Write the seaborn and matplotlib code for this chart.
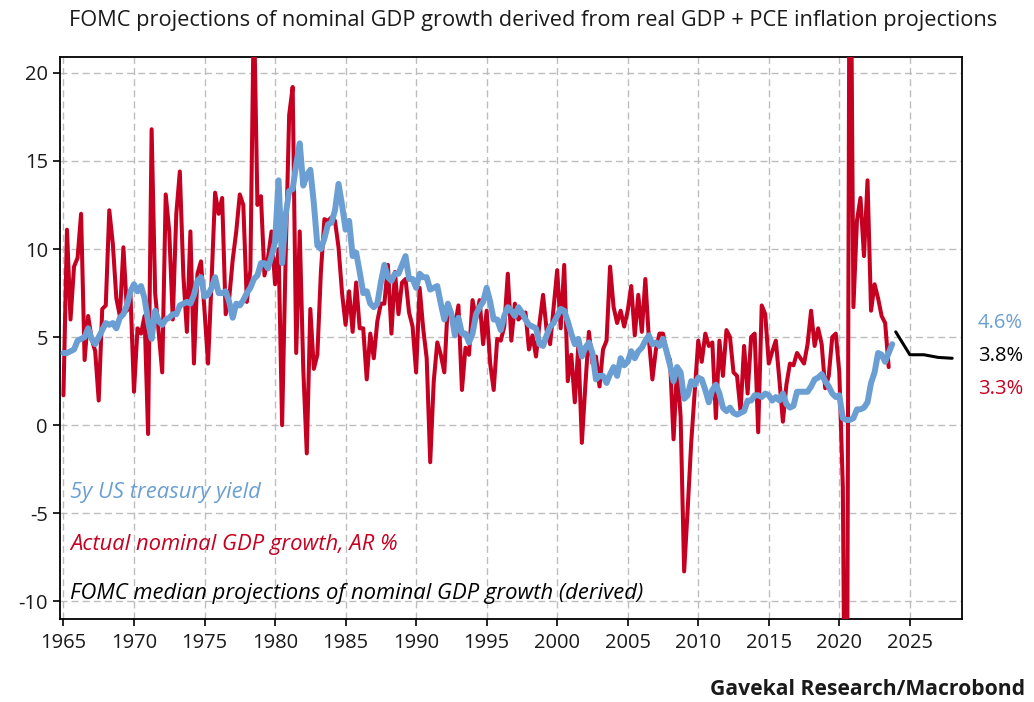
import numpy as np
import pandas as pd
import matplotlib
matplotlib.use("Agg")
import matplotlib.pyplot as plt
import seaborn as sns
from matplotlib import font_manager as fm

# ---------------- data ----------------
gdp_start = "1964Q4"   # quarterly, plotted at quarter end
gdp_growth = [
    1.7,
    11.1, 6.0, 9.0, 9.5,
    12.0, 3.7, 6.2, 4.9,
    4.2, 1.4, 6.6, 6.8,
    12.2, 10.3, 7.2, 6.2,
    10.1, 6.5, 7.5, 1.9,
    5.5, 5.2, 6.2, -0.5,
    16.8, 7.5, 5.3, 3.0,
    13.1, 11.0, 6.0, 12.0,
    14.4, 8.5, 5.3, 11.0,
    3.5, 8.6, 9.3, 6.5,
    3.5, 8.2, 13.2, 12.0,
    12.9, 6.3, 7.2, 9.4,
    11.0, 13.1, 12.5, 7.0,
    8.8, 24.0, 12.5, 13.0,
    8.5, 9.5, 11.0, 8.0,
    10.0, 0.0, 9.5, 17.6,
    19.2, 4.1, 11.0, 3.2,
    -1.6, 6.6, 3.2, 4.0,
    8.7, 11.7, 11.6, 11.8,
    11.6, 10.1, 7.5, 5.7,
    7.6, 5.3, 8.1, 5.5,
    5.5, 2.6, 5.2, 3.8,
    5.9, 6.9, 6.9, 9.1,
    5.2, 8.7, 6.3, 8.1,
    8.3, 6.4, 5.6, 3.0,
    7.8, 5.5, 3.8, -2.1,
    2.5, 4.7, 4.0, 3.0,
    6.9, 6.4, 5.6, 6.8,
    2.0, 4.4, 4.0, 7.1,
    6.0, 7.1, 4.6, 6.5,
    3.5, 2.0, 4.9, 4.8,
    5.6, 8.6, 4.8, 6.9,
    6.0, 6.2, 6.4, 4.3,
    5.1, 3.9, 5.8, 7.4,
    5.4, 4.6, 6.7, 8.8,
    5.5, 9.1, 2.5, 4.0,
    1.3, 4.5, -1.0, 2.3,
    5.3, 3.5, 3.9, 2.2,
    4.3, 4.8, 9.0, 6.7,
    5.8, 6.5, 5.6, 6.5,
    7.9, 5.1, 7.4, 5.3,
    8.3, 4.9, 2.6, 4.3,
    5.2, 5.2, 4.2, 3.7,
    -0.8, 3.3, 0.5, -8.3,
    -4.8, -1.0, 1.9, 4.8,
    3.6, 5.2, 4.5, 4.7,
    0.4, 4.8, 2.8, 5.4,
    5.0, 3.0, 2.8, 0.8,
    4.5, 1.8, 5.0, 5.2,
    -0.4, 6.8, 6.3, 3.5,
    4.2, 4.8, 2.6, 0.2,
    2.3, 3.5, 3.4, 4.1,
    3.8, 3.5, 4.6, 6.5,
    4.5, 5.5, 4.6, 2.1,
    2.8, 5.0, 5.2, 3.0,
    -3.5, -30.0, 35.0, 6.7,
    11.6, 12.9, 9.6, 13.9,
    6.5, 8.0, 7.2, 6.2,
    5.8, 3.3,
]

yield_start = "1964Q4"   # quarterly, plotted at quarter end
yield_5y = [
    4.1,
    4.1, 4.2, 4.3, 4.8,
    4.9, 5.0, 5.5, 4.9,
    4.6, 5.0, 5.4, 5.8,
    5.7, 5.8, 5.5, 6.1,
    6.3, 6.8, 7.6, 8.0,
    7.6, 7.9, 7.2, 5.9,
    4.9, 6.5, 5.9, 5.7,
    6.0, 6.1, 6.3, 6.3,
    6.8, 6.9, 7.0, 6.9,
    7.4, 8.2, 8.4, 7.3,
    7.4, 7.8, 8.4, 7.5,
    7.5, 7.6, 7.0, 6.1,
    6.9, 6.8, 7.1, 7.5,
    7.8, 8.3, 8.5, 9.2,
    9.2, 8.9, 9.6, 10.4,
    13.9, 9.2, 11.9, 13.3,
    13.4, 14.8, 16.0, 13.6,
    14.2, 14.5, 12.6, 10.2,
    10.0, 10.6, 11.4, 11.5,
    12.2, 13.7, 12.5, 11.1,
    11.6, 9.6, 9.8, 8.7,
    7.5, 7.6, 6.9, 6.7,
    6.9, 8.1, 9.1, 8.4,
    8.2, 8.6, 8.6, 9.1,
    9.6, 8.3, 8.3, 7.8,
    8.6, 8.4, 8.4, 7.7,
    7.8, 7.9, 6.9, 6.0,
    6.9, 6.3, 5.1, 6.1,
    5.2, 5.2, 4.7, 5.2,
    6.3, 6.7, 7.0, 7.8,
    7.0, 6.0, 6.0, 5.4,
    6.2, 6.7, 6.5, 6.2,
    6.7, 6.4, 6.0, 5.7,
    5.6, 5.5, 4.6, 4.5,
    5.1, 5.6, 5.8, 6.2,
    6.6, 6.5, 5.9, 5.2,
    4.6, 4.9, 3.9, 4.4,
    4.7, 4.1, 2.6, 2.8,
    2.8, 2.4, 2.9, 3.3,
    2.8, 3.8, 3.4, 3.6,
    4.2, 3.8, 4.2, 4.4,
    4.8, 5.1, 4.6, 4.7,
    4.5, 4.9, 4.2, 3.4,
    2.5, 3.3, 3.0, 1.5,
    1.7, 2.5, 2.3, 2.7,
    2.6, 2.0, 1.3, 2.0,
    2.3, 1.8, 1.0, 0.8,
    1.0, 0.7, 0.6, 0.7,
    0.8, 1.4, 1.4, 1.7,
    1.7, 1.6, 1.8, 1.7,
    1.4, 1.6, 1.4, 1.8,
    1.2, 1.0, 1.1, 1.9,
    1.9, 1.9, 1.9, 2.2,
    2.6, 2.7, 2.9, 2.5,
    2.2, 1.8, 1.6, 1.7,
    0.4, 0.3, 0.3, 0.4,
    0.9, 0.9, 1.0, 1.3,
    2.4, 3.0, 4.1, 4.0,
    3.6, 4.1, 4.6,
]

proj_years = [2023, 2024, 2025, 2026, 2027]   # plotted at year end
proj_values = [5.3, 4.0, 4.0, 3.85, 3.8]

x_ticks = [1965, 1970, 1975, 1980, 1985, 1990, 1995, 2000, 2005, 2010, 2015, 2020, 2025]
y_ticks = [-10, -5, 0, 5, 10, 15, 20]

end_labels = ["4.6%", "3.8%", "3.3%"]
legend_labels = ["5y US treasury yield",
                 "Actual nominal GDP growth, AR %",
                 "FOMC median projections of nominal GDP growth (derived)"]
title_text = "FOMC projections of nominal GDP growth derived from real GDP + PCE inflation projections"
source_text = "Gavekal Research/Macrobond"

RED = "#C50021"
BLUE = "#6B9FD3"
BLACK = "#000000"


def quarter_end_years(start, n):
    p = pd.period_range(start, periods=n, freq="Q")
    return np.asarray(p.year, dtype=float) + np.asarray(p.quarter, dtype=float) / 4.0


gdp_df = pd.DataFrame({"year": quarter_end_years(gdp_start, len(gdp_growth)),
                       "value": gdp_growth})
yld_df = pd.DataFrame({"year": quarter_end_years(yield_start, len(yield_5y)),
                       "value": yield_5y})
proj_df = pd.DataFrame({"year": np.asarray(proj_years, dtype=float) + 1.0,
                        "value": proj_values})

# ---------------- style ----------------
sns.set_style("white")
names = {f.name for f in fm.fontManager.ttflist}
base_font = "Open Sans" if "Open Sans" in names else "DejaVu Sans"
narrow_font = "Liberation Sans Narrow" if "Liberation Sans Narrow" in names else base_font
plt.rcParams["font.family"] = [base_font, "DejaVu Sans"]

fig = plt.figure(figsize=(10.34, 7.02), dpi=100)
ax = fig.add_axes([0.0585, 0.1182, 0.8719, 0.8006])

sns.lineplot(data=gdp_df, x="year", y="value", ax=ax, color=RED, lw=2.9,
             legend=False, zorder=3)
sns.lineplot(data=yld_df, x="year", y="value", ax=ax, color=BLUE, lw=4.3,
             legend=False, zorder=4)
sns.lineplot(data=proj_df, x="year", y="value", ax=ax, color=BLACK, lw=2.2,
             legend=False, zorder=5)

ax.set_xlim(1964.79, 2028.7)
ax.set_ylim(-11.0, 20.9)
ax.set_xticks(x_ticks)
ax.set_yticks(y_ticks)
ax.set_xticklabels([str(t) for t in x_ticks])
ax.set_yticklabels([str(t) for t in y_ticks])
ax.set_xlabel("")
ax.set_ylabel("")
ax.grid(True, color="#BDBDBD", linestyle=(0, (5, 3)), linewidth=1.0, zorder=0)
ax.set_axisbelow(True)
for s in ax.spines.values():
    s.set_visible(True)
    s.set_color("black")
    s.set_linewidth(1.3)
ax.tick_params(axis="both", which="major", direction="out", length=5, width=1.2,
               color="black", labelsize=14.5, labelcolor="#1a1a1a")
ax.tick_params(axis="x", pad=5)
ax.tick_params(axis="y", pad=4)
ax.xaxis.set_ticks_position("bottom")
ax.yaxis.set_ticks_position("left")

# in-plot legend texts
leg_colors = [BLUE, RED, BLACK]
leg_y = [0.226, 0.132, 0.046]
leg_texts = []
for lab, c, yy in zip(legend_labels, leg_colors, leg_y):
    leg_texts.append(ax.text(0.0105, yy, lab, transform=ax.transAxes, color=c,
                             fontsize=14, style="italic", ha="left", va="center",
                             zorder=6))

# end labels
end_colors = [BLUE, BLACK, RED]
end_y = [0.5399, 0.4929, 0.4459]
for lab, c, yy in zip(end_labels, end_colors, end_y):
    fig.text(0.9458, yy, lab, color=c, fontsize=14.5, ha="left", va="center")

title = fig.text(0.516, 0.9715, title_text, fontsize=15, color="#1a1a1a",
                 ha="center", va="center", family=[narrow_font, "DejaVu Sans"])
src = fig.text(0.9913, 0.0171, source_text, fontsize=13, fontweight="bold",
               color="#1a1a1a", ha="right", va="center")

# fit text widths to the reference layout
fig.canvas.draw()
r = fig.canvas.get_renderer()


def fit(t, target_px):
    w = t.get_window_extent(renderer=r).width
    t.set_fontsize(t.get_fontsize() * target_px / w)


fit(title, 925)
fit(leg_texts[2], 577)
for t in leg_texts[:2]:
    t.set_fontsize(leg_texts[2].get_fontsize())
fit(src, 312)

fig.savefig("out.png", dpi=100)
